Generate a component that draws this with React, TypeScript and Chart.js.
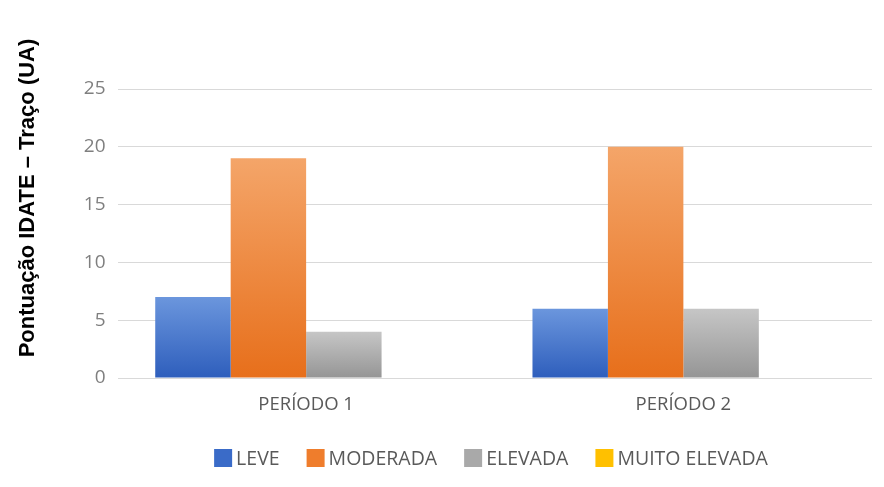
import React, { useEffect, useRef } from "react";
import { Chart, registerables } from "chart.js";

Chart.register(...registerables);

const categories = ["PERÍODO 1", "PERÍODO 2"];
const seriesNames = ["LEVE", "MODERADA", "ELEVADA", "MUITO ELEVADA"];
const leve = [7, 6];
const moderada = [19, 20];
const elevada = [4, 6];
const muitoElevada = [0, 0];
const yTicks = [0, 5, 10, 15, 20, 25];
const yTitle = "Pontuação IDATE – Traço (UA)";

const seriesValues = [leve, moderada, elevada, muitoElevada];
const topColors = ["#6b96dd", "#f4a569", "#c6c6c6", "#ffd24d"];
const bottomColors = ["#2e5ebc", "#e76f1b", "#959595", "#ffc000"];
const legendColors = ["#3a6bc8", "#ef7d2c", "#a9a9a9", "#ffc000"];

const FONT = "'Open Sans', 'Liberation Sans', sans-serif";

export default function App() {
  const ref = useRef<HTMLCanvasElement | null>(null);

  useEffect(() => {
    if (!ref.current) return;

    const decorPlugin = {
      id: "decor",
      afterDraw(chart: any) {
        const ctx = chart.ctx;
        const ca = chart.chartArea;
        ctx.save();
        // legend
        ctx.font = `19.5px ${FONT}`;
        ctx.textBaseline = "middle";
        const box = 18;
        const gapText = 4;
        const gapItem = 27;
        const widths = chart.data.datasets.map((d: any) => box + gapText + ctx.measureText(d.label).width);
        const total = widths.reduce((a: number, b: number) => a + b, 0) + gapItem * (widths.length - 1);
        let x = 491 - total / 2;
        const y = 458;
        chart.data.datasets.forEach((d: any, i: number) => {
          ctx.fillStyle = legendColors[i];
          ctx.fillRect(x, y - box / 2, box, box);
          ctx.fillStyle = "#595959";
          ctx.textAlign = "left";
          ctx.fillText(d.label, x + box + gapText, y + 1);
          x += widths[i] + gapItem;
        });
        // y title
        ctx.translate(28, 198);
        ctx.rotate(-Math.PI / 2);
        ctx.font = `bold 22px 'Liberation Sans', Arial, sans-serif`;
        ctx.fillStyle = "#000000";
        ctx.textAlign = "center";
        ctx.textBaseline = "middle";
        ctx.fillText(yTitle, 0, 0);
        ctx.restore();
      },
    };

    const chart = new Chart(ref.current, {
      type: "bar",
      data: {
        labels: categories,
        datasets: seriesNames.map((name, i) => ({
          label: name,
          data: seriesValues[i],
          backgroundColor: (c: any) => {
            const ch = c.chart;
            if (!ch.chartArea || c.raw === undefined) return bottomColors[i];
            const ys = ch.scales.y;
            const top = ys.getPixelForValue(c.raw);
            const base = ys.getPixelForValue(0);
            if (Math.abs(base - top) < 1) return bottomColors[i];
            const g = ch.ctx.createLinearGradient(0, top, 0, base);
            g.addColorStop(0, topColors[i]);
            g.addColorStop(1, bottomColors[i]);
            return g;
          },
          borderWidth: 0,
          categoryPercentage: 0.8,
          barPercentage: 1.0,
        })),
      },
      options: {
        responsive: false,
        animation: false,
        layout: { padding: { left: 0, right: 12, top: 89, bottom: 0 } },
        plugins: {
          legend: { display: false },
          tooltip: { enabled: false },
        },
        scales: {
          x: {
            grid: { display: false, drawTicks: false },
            border: { display: false },
            ticks: {
              color: "#595959",
              font: { family: FONT, size: 18.5 },
              padding: 16,
            },
            afterFit: (s: any) => {
              s.height = 109;
            },
          },
          y: {
            min: 0,
            max: 25,
            afterBuildTicks: (s: any) => {
              s.ticks = yTicks.map((v) => ({ value: v }));
            },
            grid: { color: "#d9d9d9", lineWidth: 1, drawTicks: false },
            border: { display: false },
            ticks: {
              color: "#7f7f7f",
              font: { family: FONT, size: 19 },
              padding: 12,
            },
            afterFit: (s: any) => {
              s.width = 117.5;
            },
          },
        },
      },
      plugins: [decorPlugin],
    });

    return () => chart.destroy();
  }, []);

  return (
    <div style={{ position: "fixed", left: 0, top: 0, width: 884, height: 487, background: "#ffffff" }}>
      <canvas ref={ref} width={884} height={487} style={{ display: "block" }} />
    </div>
  );
}
